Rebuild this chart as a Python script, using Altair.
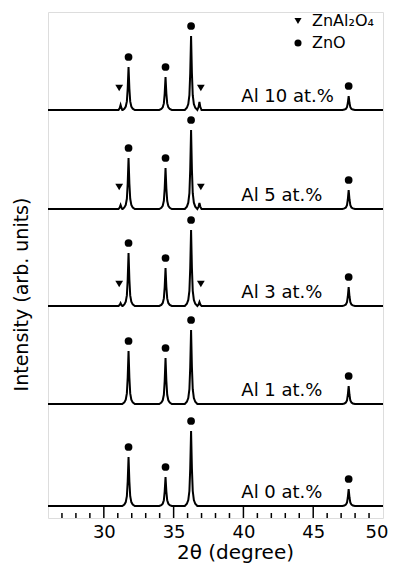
import altair as alt
import pandas as pd

# ---- data ----
samples = ["Al 0 at.%", "Al 1 at.%", "Al 3 at.%", "Al 5 at.%", "Al 10 at.%"]
offsets = [12, 114, 212, 309, 408]          # vertical stacking offset (arb. units)

zno_pos = [31.77, 34.42, 36.25, 47.54]
zno_h = {
    "Al 0 at.%": [49, 29, 75, 17],
    "Al 1 at.%": [53, 46, 74, 18],
    "Al 3 at.%": [53, 38, 76, 19],
    "Al 5 at.%": [51, 41, 79, 19],
    "Al 10 at.%": [43, 33, 74, 14],
}
spinel_pos = [31.2, 36.85]
spinel_h = {
    "Al 0 at.%": [0, 0],
    "Al 1 at.%": [0, 0],
    "Al 3 at.%": [3, 4],
    "Al 5 at.%": [4, 6],
    "Al 10 at.%": [5, 8],
}
spinel_mark_pos = [31.1, 36.95]

# peak shape (relative offset in degrees, fraction of height)
main_dx = [-0.45, -0.3, -0.2, -0.12, -0.06, 0, 0.06, 0.12, 0.2, 0.3, 0.45]
main_fr = [0, 0.03, 0.08, 0.2, 0.5, 1, 0.5, 0.2, 0.08, 0.03, 0]
small_dx = [-0.15, -0.06, 0, 0.06, 0.15]
small_fr = [0, 0.4, 1, 0.4, 0]

major_ticks = [30, 35, 40, 45]
minor_ticks = [27, 28, 29, 31, 32, 33, 34, 36, 37, 38, 39, 41, 42, 43, 44, 46, 47, 48, 49]
x_labels = [30, 35, 40, 45, 50]
phases = ["ZnAl\u2082O\u2084", "ZnO"]

# ---- build tables ----
rows = []
marks = []
for s, off in zip(samples, offsets):
    pts = [(26.0, off), (50.0, off)]
    for p, h in zip(zno_pos, zno_h[s]):
        for dx, fr in zip(main_dx, main_fr):
            pts.append((p + dx, off + h * fr))
        marks.append({"x": p, "y": off + h + 10, "phase": "ZnO"})
    for p, h, mp in zip(spinel_pos, spinel_h[s], spinel_mark_pos):
        if h > 0:
            for dx, fr in zip(small_dx, small_fr):
                pts.append((p + dx, off + h * fr))
            marks.append({"x": mp, "y": off + 22, "phase": phases[0]})
    pts.sort()
    for i, (x, y) in enumerate(pts):
        rows.append({"sample": s, "x": x, "y": y, "i": i})

spec = pd.DataFrame(rows)
mk = pd.DataFrame(marks)
lab = pd.DataFrame({"sample": samples, "x": [39.85] * 5, "y": [o + 8 for o in offsets]})
maj = pd.DataFrame({"x": major_ticks})
mnr = pd.DataFrame({"x": minor_ticks})

FONT = "DejaVu Sans"
xscale = alt.Scale(domain=[26, 50], nice=False, zero=False)
yscale = alt.Scale(domain=[0, 506], nice=False, zero=False)
xax = alt.Axis(values=x_labels, ticks=False, domain=False, grid=False,
               labelFontSize=18, labelFont=FONT, labelColor="black", labelPadding=5,
               labelFlush=True, labelFlushOffset=5, title="2\u03b8 (degree)", titleFont=FONT,
               titleFontSize=20, titleFontWeight="normal", titleColor="black",
               titlePadding=1, titleX=187, titleAnchor="middle", titleAlign="center")
yax = alt.Axis(labels=False, ticks=False, domain=False, grid=False,
               title="Intensity (arb. units)", titleFont=FONT, titleFontSize=19,
               titleFontWeight="normal", titleColor="black", titlePadding=17,
               titleY=282, titleAnchor="middle", titleAlign="center")

X = alt.X("x:Q", scale=xscale, axis=xax)
Y = alt.Y("y:Q", scale=yscale, axis=yax)

lines = alt.Chart(spec).mark_line(color="black", strokeWidth=2).encode(
    x=X, y=Y, detail="sample:N", order="i:Q")

points = alt.Chart(mk).mark_point(filled=True, color="black", opacity=1, size=60).encode(
    x=X, y=Y,
    shape=alt.Shape("phase:N",
                    scale=alt.Scale(domain=phases, range=["triangle-down", "circle"]),
                    legend=alt.Legend(orient="none", legendX=242, legendY=1, title=None,
                                      labelFont=FONT, labelFontSize=16, labelColor="black",
                                      symbolFillColor="black", symbolStrokeColor="black",
                                      symbolSize=50, rowPadding=6, labelOffset=6, padding=0)))

labels = alt.Chart(lab).mark_text(align="left", baseline="alphabetic", font=FONT,
                                  fontSize=18, color="black").encode(
    x=X, y=Y, text="sample:N")

majr = alt.Chart(maj).mark_rule(color="black", strokeWidth=1.5).encode(
    x=X, y=alt.value(506), y2=alt.value(495))
minr = alt.Chart(mnr).mark_rule(color="black", strokeWidth=1.5).encode(
    x=X, y=alt.value(506), y2=alt.value(501))

chart = alt.layer(lines, majr, minr, points, labels).properties(
    width=335, height=506,
    padding={"left": 40, "top": 4, "right": 7, "bottom": 45},
    autosize=alt.AutoSizeParams(type="none"),
).configure_view(stroke="black", strokeWidth=2).configure(background="white")

chart.save("out.html", embed_options={"renderer": "svg", "actions": False})
